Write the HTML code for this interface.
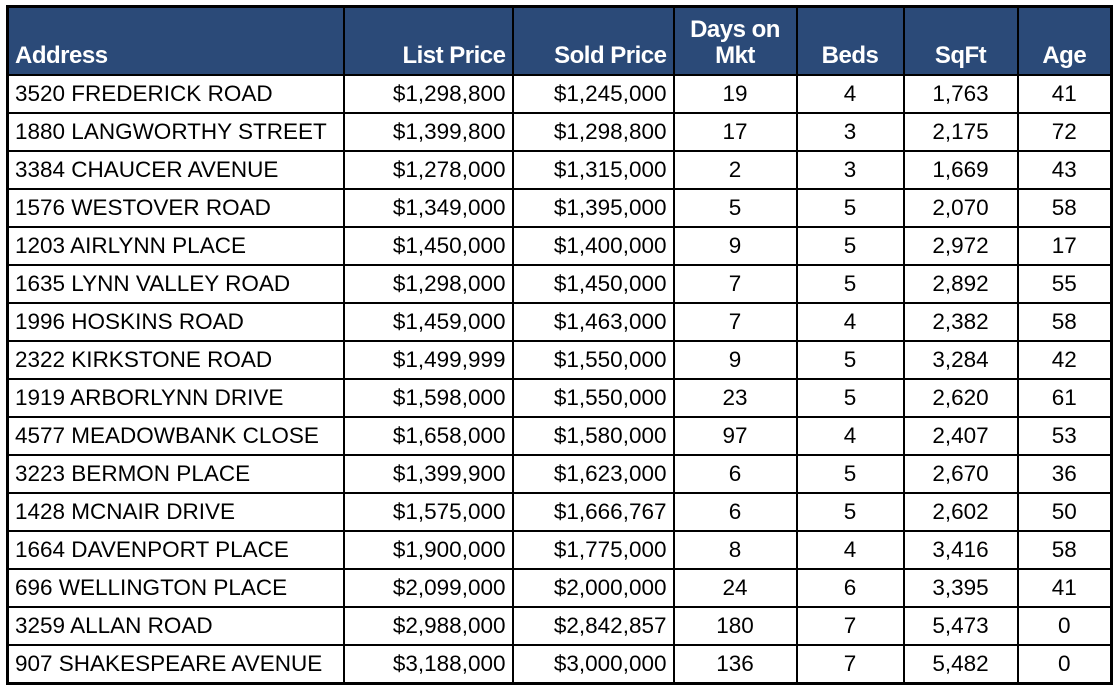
<!DOCTYPE html>
<html><head><style>
body{margin:0;background:#fff;width:1120px;height:690px;overflow:hidden;position:relative}
table{position:absolute;left:6px;top:5px;border-collapse:collapse;border:3px solid #000;table-layout:fixed}
td,th{border:2px solid #000;padding:0 6px;white-space:nowrap;overflow:hidden}
th{background:#2B4A78;color:#fff;font:bold 24px "Liberation Sans",sans-serif;height:61px;vertical-align:bottom;padding-bottom:5px;line-height:26px;letter-spacing:-0.5px}
td{font:22.5px "Liberation Sans",sans-serif;height:36px;color:#000}
th.l,td.l{text-align:left}
td.r{text-align:right}
td.c,th.c{text-align:center}
th.r{text-align:right}
</style></head><body>
<table>
<colgroup><col style="width:336px"><col style="width:169px"><col style="width:161px"><col style="width:123px"><col style="width:107px"><col style="width:114px"><col style="width:94px"></colgroup>
<tr><th class="l">Address</th><th class="r">List Price</th><th class="r">Sold Price</th><th class="c">Days on<br>Mkt</th><th class="c">Beds</th><th class="c">SqFt</th><th class="c">Age</th></tr>
<tr><td class="l">3520 FREDERICK ROAD</td><td class="r">$1,298,800</td><td class="r">$1,245,000</td><td class="c">19</td><td class="c">4</td><td class="c">1,763</td><td class="c">41</td></tr>
<tr><td class="l">1880 LANGWORTHY STREET</td><td class="r">$1,399,800</td><td class="r">$1,298,800</td><td class="c">17</td><td class="c">3</td><td class="c">2,175</td><td class="c">72</td></tr>
<tr><td class="l">3384 CHAUCER AVENUE</td><td class="r">$1,278,000</td><td class="r">$1,315,000</td><td class="c">2</td><td class="c">3</td><td class="c">1,669</td><td class="c">43</td></tr>
<tr><td class="l">1576 WESTOVER ROAD</td><td class="r">$1,349,000</td><td class="r">$1,395,000</td><td class="c">5</td><td class="c">5</td><td class="c">2,070</td><td class="c">58</td></tr>
<tr><td class="l">1203 AIRLYNN PLACE</td><td class="r">$1,450,000</td><td class="r">$1,400,000</td><td class="c">9</td><td class="c">5</td><td class="c">2,972</td><td class="c">17</td></tr>
<tr><td class="l">1635 LYNN VALLEY ROAD</td><td class="r">$1,298,000</td><td class="r">$1,450,000</td><td class="c">7</td><td class="c">5</td><td class="c">2,892</td><td class="c">55</td></tr>
<tr><td class="l">1996 HOSKINS ROAD</td><td class="r">$1,459,000</td><td class="r">$1,463,000</td><td class="c">7</td><td class="c">4</td><td class="c">2,382</td><td class="c">58</td></tr>
<tr><td class="l">2322 KIRKSTONE ROAD</td><td class="r">$1,499,999</td><td class="r">$1,550,000</td><td class="c">9</td><td class="c">5</td><td class="c">3,284</td><td class="c">42</td></tr>
<tr><td class="l">1919 ARBORLYNN DRIVE</td><td class="r">$1,598,000</td><td class="r">$1,550,000</td><td class="c">23</td><td class="c">5</td><td class="c">2,620</td><td class="c">61</td></tr>
<tr><td class="l">4577 MEADOWBANK CLOSE</td><td class="r">$1,658,000</td><td class="r">$1,580,000</td><td class="c">97</td><td class="c">4</td><td class="c">2,407</td><td class="c">53</td></tr>
<tr><td class="l">3223 BERMON PLACE</td><td class="r">$1,399,900</td><td class="r">$1,623,000</td><td class="c">6</td><td class="c">5</td><td class="c">2,670</td><td class="c">36</td></tr>
<tr><td class="l">1428 MCNAIR DRIVE</td><td class="r">$1,575,000</td><td class="r">$1,666,767</td><td class="c">6</td><td class="c">5</td><td class="c">2,602</td><td class="c">50</td></tr>
<tr><td class="l">1664 DAVENPORT PLACE</td><td class="r">$1,900,000</td><td class="r">$1,775,000</td><td class="c">8</td><td class="c">4</td><td class="c">3,416</td><td class="c">58</td></tr>
<tr><td class="l">696 WELLINGTON PLACE</td><td class="r">$2,099,000</td><td class="r">$2,000,000</td><td class="c">24</td><td class="c">6</td><td class="c">3,395</td><td class="c">41</td></tr>
<tr><td class="l">3259 ALLAN ROAD</td><td class="r">$2,988,000</td><td class="r">$2,842,857</td><td class="c">180</td><td class="c">7</td><td class="c">5,473</td><td class="c">0</td></tr>
<tr><td class="l">907 SHAKESPEARE AVENUE</td><td class="r">$3,188,000</td><td class="r">$3,000,000</td><td class="c">136</td><td class="c">7</td><td class="c">5,482</td><td class="c">0</td></tr>
</table>
</body></html>
